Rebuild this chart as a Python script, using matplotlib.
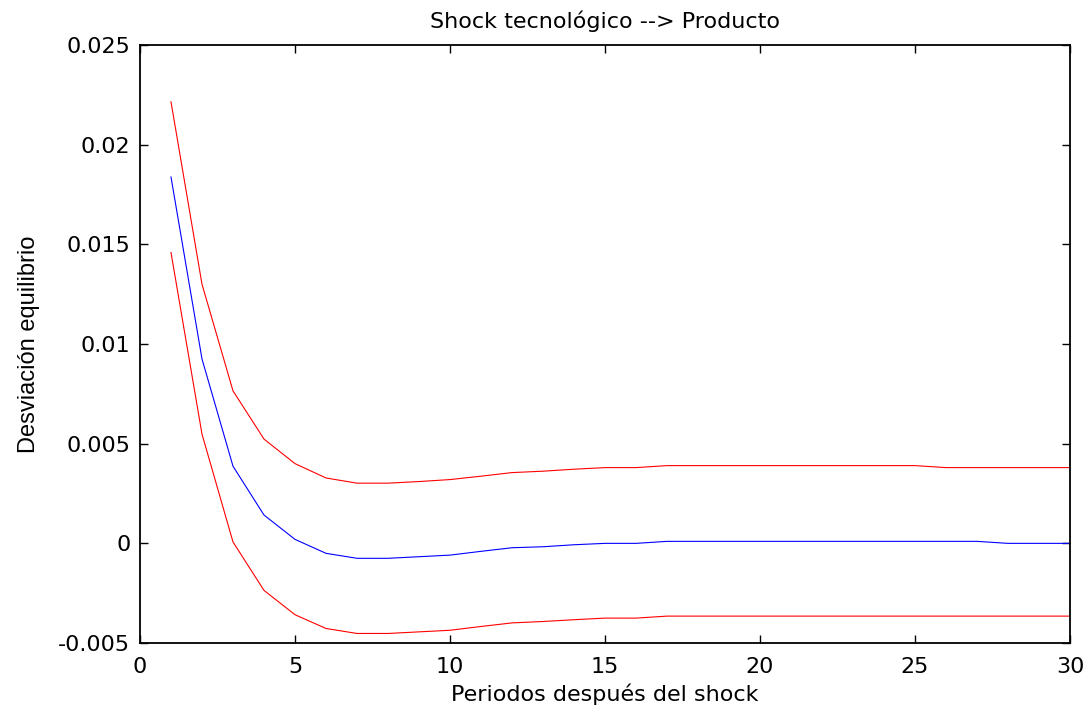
import numpy as np
import matplotlib.pyplot as plt

# Impulse response of output to a technology shock, with bands
periods = np.arange(1, 31)
respuesta = [0.01838, 0.00925, 0.00387, 0.00142, 0.0002, -0.0005, -0.00075, -0.00075,
             -0.00067, -0.00059, -0.0004, -0.00022, -0.00017, -0.00007, 0.0, 0.0,
             0.0001, 0.0001, 0.0001, 0.0001, 0.0001, 0.0001, 0.0001, 0.0001, 0.0001,
             0.0001, 0.0001, 0.0, 0.0, 0.0]
banda_sup = [0.02215, 0.0130, 0.00765, 0.00523, 0.0040, 0.00328, 0.00302, 0.00302,
             0.0031, 0.0032, 0.00337, 0.00355, 0.00362, 0.00372, 0.0038, 0.0038,
             0.0039, 0.0039, 0.0039, 0.0039, 0.0039, 0.0039, 0.0039, 0.0039, 0.0039,
             0.0038, 0.0038, 0.0038, 0.0038, 0.0038]
banda_inf = [0.01459, 0.00548, 0.00007, -0.00236, -0.00358, -0.00427, -0.00452, -0.00452,
             -0.00444, -0.00436, -0.00417, -0.00399, -0.00392, -0.00383, -0.00375, -0.00375,
             -0.00365, -0.00365, -0.00365, -0.00365, -0.00365, -0.00365, -0.00365, -0.00365,
             -0.00365, -0.00365, -0.00365, -0.00365, -0.00365, -0.00365]
yticks = [-0.005, 0, 0.005, 0.01, 0.015, 0.02, 0.025]
ytick_labels = ['-0.005', '0', '0.005', '0.01', '0.015', '0.02', '0.025']

plt.rcParams['font.family'] = ['DejaVu Sans']

fig = plt.figure(figsize=(10.92, 7.11), dpi=100)
ax = fig.add_axes([0.1282, 0.0956, 0.8517, 0.8411])

ax.plot(periods, banda_sup, color='red', lw=0.8)
ax.plot(periods, respuesta, color='blue', lw=0.8)
ax.plot(periods, banda_inf, color='red', lw=0.8)

ax.set_xlim(0, 30)
ax.set_ylim(-0.005, 0.025)
ax.set_xticks([0, 5, 10, 15, 20, 25, 30])
ax.set_yticks(yticks)
ax.set_yticklabels(ytick_labels)
ax.tick_params(direction='in', top=True, right=True, length=6, width=1,
               labelsize=16)
ax.tick_params(axis='y', pad=7)
ax.tick_params(axis='x', pad=10)
for s in ax.spines.values():
    s.set_linewidth(1.3)

ax.set_title('Shock tecnológico --> Producto', fontsize=16, pad=12)
ax.set_xlabel('Periodos después del shock', fontsize=16, labelpad=5)
ax.set_ylabel('Desviación equilibrio', fontsize=17,
              family=['Liberation Sans Narrow', 'Liberation Sans'], labelpad=13)

fig.savefig('out.png', dpi=100)
